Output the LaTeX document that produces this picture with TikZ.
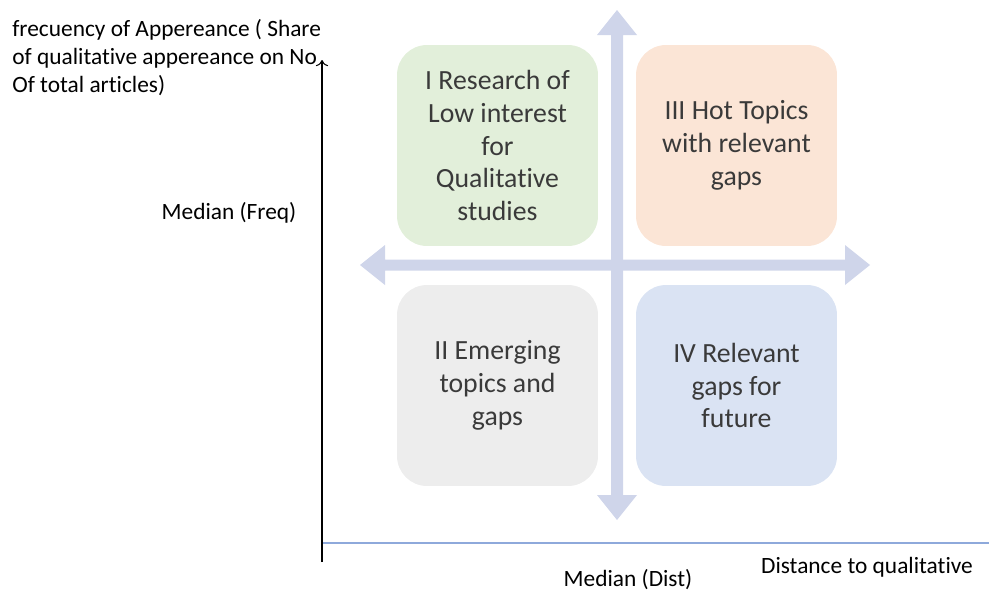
\documentclass[tikz,border=0pt]{standalone}
\usepackage{fontspec}
\setmainfont{Carlito}[Ligatures=CommonOff]
\usetikzlibrary{positioning,arrows.meta}
\definecolor{qgreen}{HTML}{E2EFDA}
\definecolor{qorange}{HTML}{FBE5D6}
\definecolor{qgray}{HTML}{EDEDED}
\definecolor{qblue}{HTML}{DAE3F3}
\definecolor{crossblue}{HTML}{CFD5EA}
\definecolor{axisblue}{HTML}{8EA9DB}
\definecolor{boxtext}{HTML}{3A3A3A}

\begin{document}
\begin{tikzpicture}[x=0.02cm,y=-0.02cm,
	quad/.style={rounded corners=0.6cm, minimum width=4.02cm, minimum height=4.02cm, align=center, text=boxtext, font=\fontsize{15.8}{18.6}\selectfont},
	axislabel/.style={font=\fontsize{13.3}{15.9}\selectfont, text=black, inner sep=0pt}]
	\useasboundingbox (0,0) rectangle (989,592);

	% the big cross
	\fill[crossblue] (611,35) -- (597,35) -- (617,10) -- (637,35) -- (623,35) -- (623,495) -- (637,495) -- (617,520) -- (597,495) -- (611,495) -- cycle;
	\fill[crossblue] (385,259.5) -- (385,245) -- (360,265) -- (385,285) -- (385,270.5) -- (845,270.5) -- (845,285) -- (870,265) -- (845,245) -- (845,259.5) -- cycle;

	% quadrants
	\node[quad, fill=qgreen] (research) at (497.5,145.5) {I Research of\\Low interest\\for\\Qualitative\\studies};
	\node[quad, fill=qorange] (hot) at (736.5,145.5) {III Hot Topics\\with relevant\\gaps};
	\node[quad, fill=qgray] (emerging) at (497.5,385.5) {II Emerging\\topics and\\gaps};
	\node[quad, fill=qblue] (relevant) at (736.5,385.5) {IV Relevant\\gaps for\\future};

	% axes
	\coordinate (ybottom) at (322,562);
	\coordinate (ytop) at (322,60);
	\coordinate (xleft) at (322,543);
	\coordinate (xright) at (989,543);
	\draw[axisblue, line width=0.6pt] (xleft) -- (xright);
	\draw[-{To[length=3.5pt,width=7pt]}, line width=0.6pt] (ybottom) -- (ytop);

	\node[axislabel, anchor=west, align=left] (yaxislabel) at (12,58) {frecuency of Appereance ( Share\\of qualitative appereance on No\\Of total articles)};
	\node[axislabel] (medfreq) at (229,213) {Median (Freq)};
	\node[axislabel] (meddist) at (628,580) {Median (Dist)};
	\node[axislabel] (xaxislabel) at (867,567) {Distance to qualitative};
\end{tikzpicture}
\end{document}
